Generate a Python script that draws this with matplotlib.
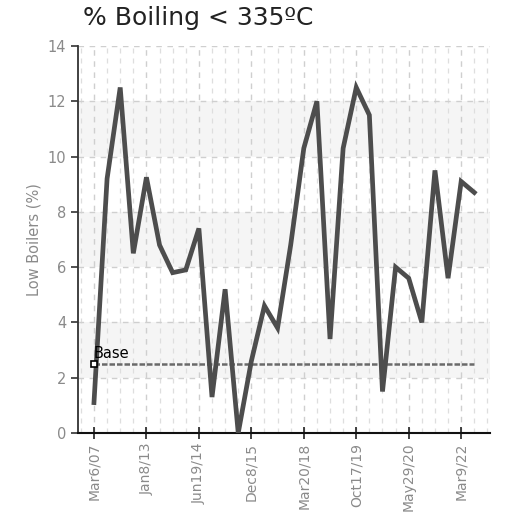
"""
% Boiling < 335ºC  -- low boilers trend with base line.
"""
import matplotlib
matplotlib.use("Agg")
import matplotlib.pyplot as plt
from matplotlib.ticker import MultipleLocator

OUTPUT = "out.png"

DATES = ["Mar6/07", "Jan8/13", "Jun19/14", "Dec8/15",
         "Mar20/18", "Oct17/19", "May29/20", "Mar9/22"]
LOW_BOILERS = [1.1, 9.2, 12.5, 6.5, 9.25, 6.8, 5.8, 5.9, 7.4, 1.3,
               5.2, 0.0, 2.6, 4.6, 3.8, 6.8, 10.3, 12.0, 3.4, 10.3,
               12.5, 11.5, 1.5, 6.0, 5.6, 4.0, 9.5, 5.6, 9.1, 8.7]
BASE = 2.5
TICK_EVERY = 4

LINE_COLOR = "#4d4d4d"
GRID_COLOR = "#cfcfcf"
BAND_COLOR = "#f5f5f5"
TEXT_GRAY = "#8a8a8a"


def draw():
    fig = plt.figure(figsize=(5.08, 5.18), dpi=100)
    fig.patch.set_facecolor("white")
    ax = fig.add_axes([0.1535, 0.1641, 0.8111, 0.7471])

    n = len(LOW_BOILERS)
    x = list(range(n))

    # alternating bands
    for lo in (2, 6, 10):
        ax.axhspan(lo, lo + 2, color=BAND_COLOR, zorder=0, lw=0)

    ax.plot(x, LOW_BOILERS, color=LINE_COLOR, lw=3.4, zorder=4,
            solid_joinstyle="miter")

    ax.plot([0, n - 1], [BASE, BASE], color="#6a6a6a", lw=1.8,
            ls=(0, (2.2, 0.8)), zorder=3)
    ax.plot([0], [BASE], marker="s", ms=5, mfc="white", mec="black",
            mew=1.2, zorder=5, clip_on=False)
    ax.text(0.0, BASE + 0.1, "Base", fontsize=10.5, color="black",
            va="bottom", ha="left", zorder=6)

    ax.set_xlim(-1.22, 30.2)
    ax.set_ylim(0, 14)

    ax.set_xticks(x[::TICK_EVERY])
    ax.set_xticklabels(DATES, rotation=90, color=TEXT_GRAY, fontsize=10)
    ax.xaxis.set_minor_locator(MultipleLocator(1))
    ax.yaxis.set_major_locator(MultipleLocator(2))
    ax.tick_params(axis="y", colors="#333333", labelcolor=TEXT_GRAY,
                   labelsize=10.5, length=5, width=1.2)
    ax.tick_params(axis="x", which="major", direction="inout", length=8,
                   width=1.2, color="#222222", pad=3)
    ax.tick_params(axis="x", which="minor", length=0)

    ax.grid(True, which="major", axis="both", color=GRID_COLOR, ls=(0, (4, 4)),
            lw=1.0, zorder=1)
    ax.grid(True, which="minor", axis="x", color="#dedede", ls=(0, (4, 4)),
            lw=0.9, zorder=1)
    ax.set_axisbelow(True)

    for side in ("top", "right"):
        ax.spines[side].set_visible(False)
    ax.spines["left"].set_color("#333333")
    ax.spines["left"].set_linewidth(1.3)
    ax.spines["bottom"].set_color("#111111")
    ax.spines["bottom"].set_linewidth(1.5)

    ax.set_ylabel("Low Boilers (%)", color=TEXT_GRAY, fontsize=10.5,
                  labelpad=4)

    fig.text(83 / 508, 1 - 18 / 518, "% Boiling < 335ºC", fontsize=18,
             color="#222222", ha="left", va="center")

    fig.savefig(OUTPUT, dpi=100, facecolor="white")
    plt.close(fig)


if __name__ == "__main__":
    draw()
